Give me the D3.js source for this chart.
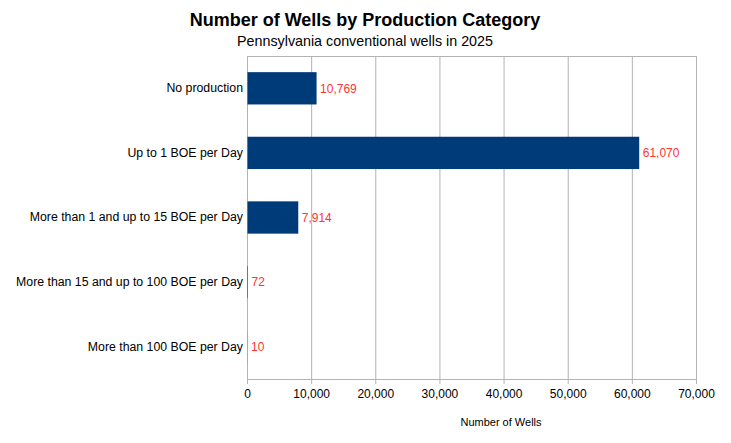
<!DOCTYPE html>
<html>
<head>
<meta charset="utf-8">
<script src="https://cdn.jsdelivr.net/npm/d3@7"></script>
<style>
  body { margin: 0; background: #fff; }
  text { font-family: "Liberation Sans", Arial, sans-serif; }
</style>
</head>
<body>
<div id="chart"></div>
<script>
var categories = [
    "No production",
    "Up to 1 BOE per Day",
    "More than 1 and up to 15 BOE per Day",
    "More than 15 and up to 100 BOE per Day",
    "More than 100 BOE per Day"
];
var wells = [10769, 61070, 7914, 72, 10];
var xTicks = [0, 10000, 20000, 30000, 40000, 50000, 60000, 70000];

var width = 731;
var height = 443;
var margin = { left: 247, top: 56, right: 35, bottom: 64 };
var innerW = width - margin.left - margin.right;
var innerH = height - margin.top - margin.bottom;

var svg = d3.select("#chart").append("svg")
    .attr("width", width)
    .attr("height", height);

var x = d3.scaleLinear().domain([0, 70000]).range([0, innerW]);
var y = d3.scaleBand().domain(categories).range([0, innerH]).paddingInner(0.5).paddingOuter(0.25);
var fmt = d3.format(",");

// titles
svg.append("text")
    .attr("x", 365).attr("y", 26)
    .attr("text-anchor", "middle")
    .attr("font-size", 18).attr("font-weight", "bold")
    .attr("fill", "#000")
    .text("Number of Wells by Production Category");
svg.append("text")
    .attr("x", 365).attr("y", 46)
    .attr("text-anchor", "middle")
    .attr("font-size", 14.3)
    .attr("fill", "#000")
    .text("Pennsylvania conventional wells in 2025");

var g = svg.append("g").attr("transform", "translate(" + margin.left + "," + margin.top + ")");

// grid lines
g.selectAll(".grid").data(xTicks)
    .enter().append("line")
    .attr("x1", d => x(d) + 0.5).attr("x2", d => x(d) + 0.5)
    .attr("y1", 0).attr("y2", innerH)
    .attr("stroke", "#b3b3b3");
g.append("line")
    .attr("x1", 0).attr("x2", innerW)
    .attr("y1", 0.5).attr("y2", 0.5)
    .attr("stroke", "#b3b3b3");

// x axis
var xAxis = g.append("g")
    .attr("transform", "translate(0," + innerH + ")")
    .call(d3.axisBottom(x).tickValues(xTicks).tickFormat(fmt).tickSizeInner(5).tickSizeOuter(0).tickPadding(5));
xAxis.select(".domain").attr("stroke", "#b3b3b3");
xAxis.selectAll(".tick line").attr("stroke", "#b3b3b3");
xAxis.selectAll("text").attr("font-size", 12).attr("fill", "#000")
    .attr("font-family", "Liberation Sans, Arial, sans-serif");

// y axis (labels only)
var yAxis = g.append("g")
    .call(d3.axisLeft(y).tickSize(0).tickPadding(4));
yAxis.select(".domain").attr("stroke", "#b3b3b3");
yAxis.selectAll("text").attr("font-size", 12.3).attr("fill", "#000")
    .attr("font-family", "Liberation Sans, Arial, sans-serif");

// bars
g.selectAll(".bar").data(wells)
    .enter().append("rect")
    .attr("x", 0.5)
    .attr("y", (d, i) => y(categories[i]))
    .attr("width", d => x(d))
    .attr("height", y.bandwidth())
    .attr("fill", "#003b79");

// value labels
g.selectAll(".val").data(wells)
    .enter().append("text")
    .attr("x", d => x(d) + 4)
    .attr("y", (d, i) => y(categories[i]) + y.bandwidth() / 2)
    .attr("dy", "0.35em")
    .attr("font-size", 12)
    .attr("fill", "#ff3333")
    .text(d => fmt(d));

// axis title
svg.append("text")
    .attr("x", 501).attr("y", 426)
    .attr("text-anchor", "middle")
    .attr("font-size", 11)
    .attr("fill", "#000")
    .text("Number of Wells");
</script>
</body>
</html>
